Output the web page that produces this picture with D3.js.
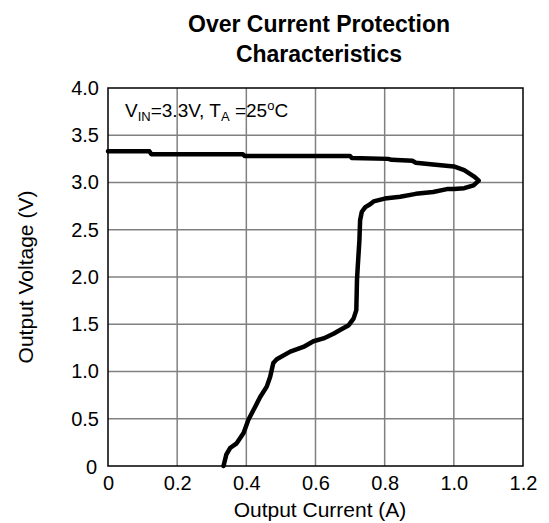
<!DOCTYPE html>
<html>
<head>
<meta charset="utf-8">
<script src="https://cdn.jsdelivr.net/npm/d3@7"></script>
<style>
body { margin: 0; background: #fff; }
text { font-family: "Liberation Sans", Arial, sans-serif; }
</style>
</head>
<body>
<script>
var w = 549;
var h = 523;

// curve, in drawing order
var current = [0, 0.12, 0.125, 0.39, 0.395, 0.70, 0.705, 0.81, 0.82, 0.88, 0.89, 0.94, 1.0, 1.03, 1.06, 1.072,
  1.057, 1.03, 1.0, 0.98, 0.94, 0.89, 0.845, 0.80, 0.768, 0.758, 0.744, 0.734, 0.729, 0.727, 0.722, 0.720,
  0.718, 0.710, 0.696, 0.671, 0.652, 0.623, 0.594, 0.565, 0.527, 0.488, 0.478, 0.469, 0.459, 0.440, 0.426,
  0.406, 0.392, 0.372, 0.353, 0.342, 0.336, 0.334];
var voltage = [3.33, 3.33, 3.30, 3.30, 3.28, 3.28, 3.26, 3.25, 3.24, 3.23, 3.21, 3.19, 3.17, 3.13, 3.06, 3.02,
  2.97, 2.94, 2.93, 2.93, 2.90, 2.88, 2.85, 2.83, 2.80, 2.77, 2.74, 2.69, 2.60, 2.39, 2.10, 1.97,
  1.65, 1.56, 1.49, 1.44, 1.40, 1.35, 1.32, 1.26, 1.21, 1.13, 1.09, 0.945, 0.84, 0.73, 0.63,
  0.49, 0.35, 0.24, 0.19, 0.12, 0.03, 0];

var xTicks = [0, 0.2, 0.4, 0.6, 0.8, 1.0, 1.2];
var xLabels = ["0", "0.2", "0.4", "0.6", "0.8", "1.0", "1.2"];
var yTicks = [0, 0.5, 1.0, 1.5, 2.0, 2.5, 3.0, 3.5, 4.0];
var yLabels = ["0", "0.5", "1.0", "1.5", "2.0", "2.5", "3.0", "3.5", "4.0"];

var pLeft = 108, pRight = 523, pTop = 88, pBottom = 466;

var x = d3.scaleLinear().domain([0, 1.2]).range([pLeft, pRight]);
var y = d3.scaleLinear().domain([0, 4]).range([pBottom, pTop]);

var svg = d3.select("body").append("svg")
  .attr("width", w)
  .attr("height", h);

// grid
svg.selectAll("line.vg")
  .data(xTicks.slice(1, -1))
  .enter().append("line")
  .attr("x1", function(d) { return x(d); })
  .attr("x2", function(d) { return x(d); })
  .attr("y1", pTop).attr("y2", pBottom)
  .attr("stroke", "#808080").attr("stroke-width", 1.5);

svg.selectAll("line.hg")
  .data(yTicks.slice(1, -1))
  .enter().append("line")
  .attr("y1", function(d) { return y(d); })
  .attr("y2", function(d) { return y(d); })
  .attr("x1", pLeft).attr("x2", pRight)
  .attr("stroke", "#808080").attr("stroke-width", 1.5);

// frame
svg.append("rect")
  .attr("x", pLeft).attr("y", pTop)
  .attr("width", pRight - pLeft).attr("height", pBottom - pTop)
  .attr("fill", "none").attr("stroke", "#000").attr("stroke-width", 1.5);

// axes, labels only
var xAxis = d3.axisBottom(x).tickValues(xTicks).tickSize(0).tickPadding(10)
  .tickFormat(function(d, i) { return xLabels[i]; });
var gx = svg.append("g").attr("transform", "translate(0," + pBottom + ")").call(xAxis);
gx.select(".domain").remove();
gx.selectAll("text").attr("font-size", 20).attr("fill", "#000")
  .style("font-family", "Liberation Sans, Arial, sans-serif");

var yAxis = d3.axisLeft(y).tickValues(yTicks).tickSize(0).tickPadding(9)
  .tickFormat(function(d, i) { return yLabels[i]; });
var gy = svg.append("g").attr("transform", "translate(" + pLeft + ",0)").call(yAxis);
gy.select(".domain").remove();
gy.selectAll("text").attr("font-size", 20).attr("fill", "#000")
  .style("font-family", "Liberation Sans, Arial, sans-serif");
gy.selectAll(".tick").filter(function(d) { return d === 0; })
  .select("text").attr("x", -11).attr("dy", "0.35em");

// curve
var line = d3.line()
  .x(function(d) { return x(d); })
  .y(function(d, i) { return y(voltage[i]); });

svg.append("path")
  .datum(current)
  .attr("d", line)
  .attr("fill", "none")
  .attr("stroke", "#000")
  .attr("stroke-width", 4.5)
  .attr("stroke-linejoin", "round")
  .attr("stroke-linecap", "round");

// title
svg.append("text").attr("x", 319).attr("y", 32)
  .attr("text-anchor", "middle").attr("font-size", 23).attr("font-weight", "bold")
  .text("Over Current Protection");
svg.append("text").attr("x", 319).attr("y", 62)
  .attr("text-anchor", "middle").attr("font-size", 23).attr("font-weight", "bold")
  .text("Characteristics");

// axis titles
svg.append("text").attr("x", 320).attr("y", 517)
  .attr("text-anchor", "middle").attr("font-size", 21)
  .text("Output Current (A)");
svg.append("text")
  .attr("transform", "translate(33," + ((pTop + pBottom) / 2) + ") rotate(-90)")
  .attr("text-anchor", "middle").attr("font-size", 21)
  .text("Output Voltage (V)");

// conditions note
var note = svg.append("text").attr("x", 125).attr("y", 117).attr("font-size", 19);
note.append("tspan").text("V");
note.append("tspan").attr("font-size", 13).attr("dy", 4).text("IN");
note.append("tspan").attr("dy", -4).text("=3.3V, T");
note.append("tspan").attr("font-size", 13).attr("dy", 4).text("A");
note.append("tspan").attr("dy", -4).text(" =25");
note.append("tspan").attr("font-size", 13).attr("dy", -7).text("o");
note.append("tspan").attr("dy", 7).text("C");
</script>
</body>
</html>
